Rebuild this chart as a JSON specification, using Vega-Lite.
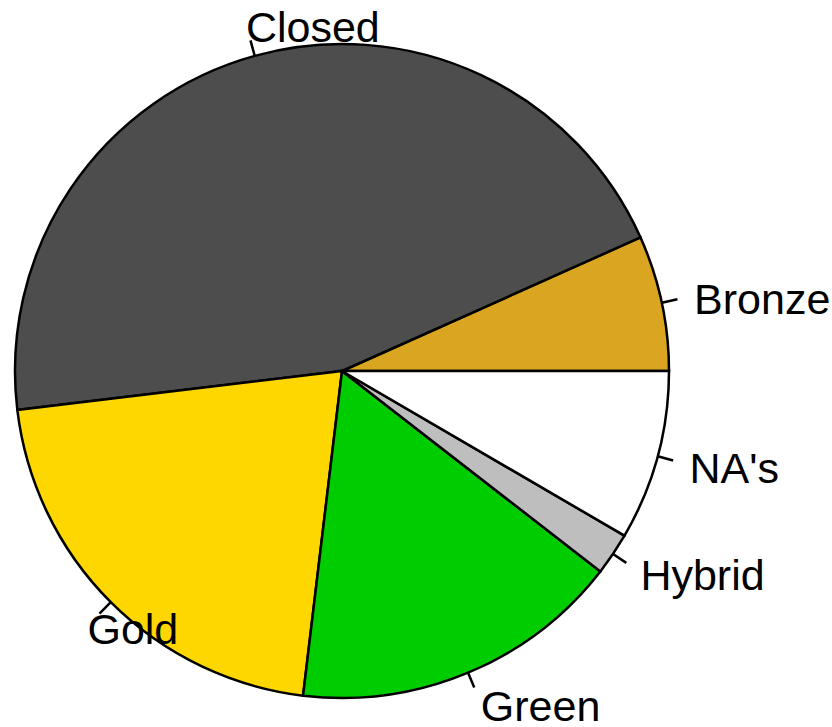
{
  "$schema": "https://vega.github.io/schema/vega-lite/v6.json",
  "width": 600,
  "height": 600,
  "autosize": {"type": "none"},
  "padding": {"left": 42, "top": 71, "right": 190, "bottom": 56},
  "background": "white",
  "config": {"view": {"stroke": null}},
  "data": {
    "values": [
      {"category": "Bronze", "value": 6.7},
      {"category": "Closed", "value": 45.2},
      {"category": "Gold", "value": 21.2},
      {"category": "Green", "value": 16.4},
      {"category": "Hybrid", "value": 2.1},
      {"category": "NA's", "value": 8.4}
    ]
  },
  "encoding": {
    "theta": {
      "field": "value",
      "type": "quantitative",
      "stack": true,
      "scale": {"range": [1.5707963, -4.712389]}
    },
    "order": {"field": "category", "type": "nominal", "sort": "ascending"}
  },
  "layer": [
    {
      "mark": {"type": "arc", "outerRadius": 327, "stroke": "black", "strokeWidth": 2.5},
      "encoding": {
        "color": {
          "field": "category",
          "type": "nominal",
          "legend": null,
          "scale": {
            "domain": ["Bronze", "Closed", "Gold", "Green", "Hybrid", "NA's"],
            "range": ["#DAA520", "#4D4D4D", "#FFD700", "#00CD00", "#BEBEBE", "#FFFFFF"]
          }
        }
      }
    },
    {
      "mark": {"type": "arc", "innerRadius": 327, "outerRadius": 343, "padAngle": 3.14159, "fill": null, "stroke": "black", "strokeWidth": 2.5},
      "encoding": {"detail": {"field": "category", "type": "nominal"}}
    },
    {
      "mark": {"type": "text", "radius": 360, "align": "left", "baseline": "middle", "dy": 5, "font": "Liberation Sans", "fontSize": 43, "fill": "black"},
      "encoding": {
        "detail": {"field": "category", "type": "nominal"},
        "text": {"field": "category", "type": "nominal"}
      }
    }
  ]
}
